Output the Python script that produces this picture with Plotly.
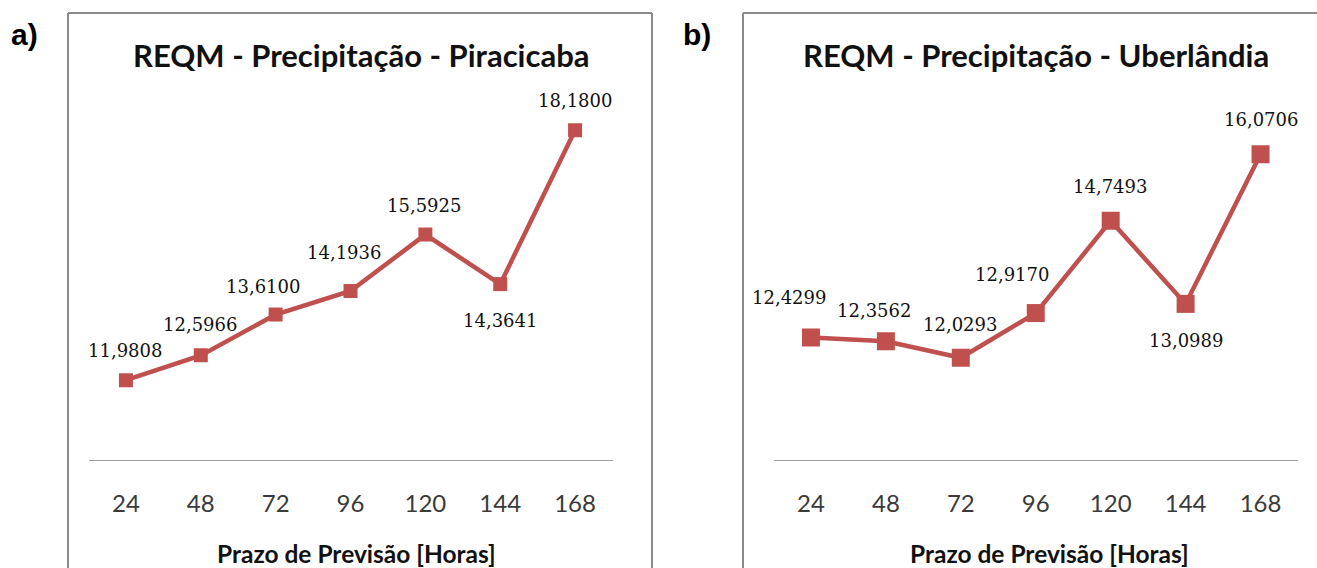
import plotly.graph_objects as go

# ---------------- data ----------------
horas = ["24", "48", "72", "96", "120", "144", "168"]
reqm_piracicaba = [11.9808, 12.5966, 13.6100, 14.1936, 15.5925, 14.3641, 18.1800]
reqm_uberlandia = [12.4299, 12.3562, 12.0293, 12.9170, 14.7493, 13.0989, 16.0706]
titulo_a = "REQM - Precipitação - Piracicaba"
titulo_b = "REQM - Precipitação - Uberlândia"
titulo_x = "Prazo de Previsão [Horas]"

# label placement (pixel offsets from marker: dx, dy)
off_a = [(-1, 30), (-1, 31), (-13, 28), (-7, 39), (-1, 29), (0, -36), (0, 30)]
off_b = [(-22, 40), (-12, 31), (-1, 33), (-24, 39), (-1, 34), (0, -37), (0, 35)]

W, H = 1317, 568
RED = "#C0504D"

def px(x):
    return x / W

def py(y):
    return 1 - y / H

fig = go.Figure()
fig.add_trace(go.Scatter(x=horas, y=reqm_piracicaba, mode="lines+markers",
                         line=dict(color=RED, width=4.5),
                         marker=dict(symbol="square", size=14, color=RED),
                         xaxis="x", yaxis="y", showlegend=False, hoverinfo="skip"))
fig.add_trace(go.Scatter(x=horas, y=reqm_uberlandia, mode="lines+markers",
                         line=dict(color=RED, width=4.5),
                         marker=dict(symbol="square", size=18, color=RED),
                         xaxis="x2", yaxis="y2", showlegend=False, hoverinfo="skip"))

ydom = [py(460), py(57)]
xcommon = dict(type="category", categoryorder="array", categoryarray=horas,
               range=[-0.5, 6.5], showline=True, linecolor="#a0a0a0", linewidth=1.3,
               ticks="", showgrid=False, zeroline=False,
               tickfont=dict(family="Lato", size=24, color="#3a3a3a"),
               ticklabelstandoff=22, fixedrange=True)
fig.update_layout(
    width=W, height=H,
    margin=dict(l=0, r=0, t=0, b=0),
    paper_bgcolor="white", plot_bgcolor="white",
    xaxis=dict(domain=[px(88.5), px(612.5)], anchor="y", **xcommon),
    yaxis=dict(domain=ydom, range=[10, 20], visible=False, anchor="x"),
    xaxis2=dict(domain=[px(773.5), px(1298)], anchor="y2", **xcommon),
    yaxis2=dict(domain=ydom, range=[10, 18], visible=False, anchor="x2"),
)

ann = []
def fmt(v):
    return f"{v:.4f}".replace(".", ",")

for xr, yr, vals, offs in (("x", "y", reqm_piracicaba, off_a), ("x2", "y2", reqm_uberlandia, off_b)):
    for i, (v, (dx, dy)) in enumerate(zip(vals, offs)):
        ann.append(dict(x=i, y=v, xref=xr, yref=yr, text=fmt(v), showarrow=False,
                        xshift=dx, yshift=dy,
                        font=dict(family="DejaVu Serif", size=18, color="#111111")))

# titles
for cx, t in ((361, titulo_a), (1036, titulo_b)):
    ann.append(dict(x=px(cx), y=py(55), xref="paper", yref="paper", text=f"<b>{t}</b>",
                    showarrow=False, xanchor="center", yanchor="middle",
                    font=dict(family="Lato", size=31, color="#111111")))
for cx in (356, 1049):
    ann.append(dict(x=px(cx), y=py(553), xref="paper", yref="paper", text=f"<b>{titulo_x}</b>",
                    showarrow=False, xanchor="center", yanchor="middle",
                    font=dict(family="Lato", size=24.5, color="#111111")))
# panel letters
for cx, t in ((24, "a)"), (697, "b)")):
    ann.append(dict(x=px(cx), y=py(35), xref="paper", yref="paper", text=f"<b>{t}</b>",
                    showarrow=False, xanchor="center", yanchor="middle",
                    font=dict(family="Liberation Sans", size=30, color="#000000")))
fig.update_layout(annotations=ann)

# panel borders (top, left, right edges; bottom and b's right edge lie off-page)
BORDER = dict(color="#8a8a8a", width=2)
segments = [
    (68, 13, 652, 13), (68, 13, 68, 568), (652, 13, 652, 568),
    (743, 13, 1317, 13), (743, 13, 743, 568),
]
shapes = [dict(type="line", xref="paper", yref="paper",
               x0=px(a), y0=py(b), x1=px(c), y1=py(d), line=BORDER, layer="below")
          for a, b, c, d in segments]
fig.update_layout(shapes=shapes)

# remove the default page margin so the figure fills the window exactly
post = ("document.body.style.margin='0';document.body.style.overflow='hidden';"
        "document.documentElement.style.overflow='hidden';")
fig.write_html("out.html", post_script=post, config={"displayModeBar": False})
